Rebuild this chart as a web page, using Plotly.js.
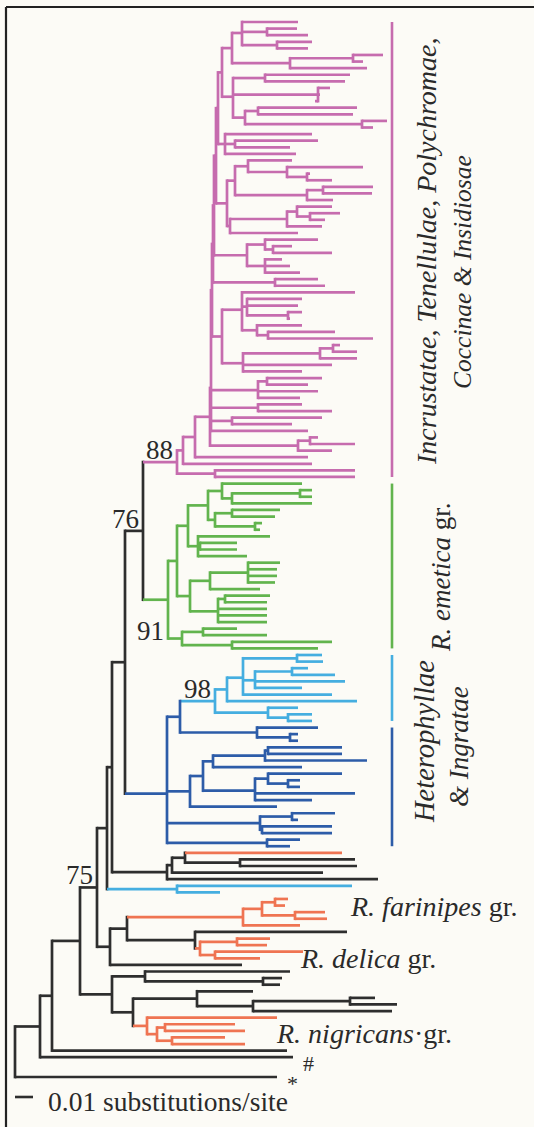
<!DOCTYPE html>
<html><head><meta charset="utf-8">
<script src="https://cdn.plot.ly/plotly-3.0.1.min.js"></script>
<style>html,body{margin:0;padding:0;background:#fcfbf6;}#chart{width:534px;height:1127px;}</style>
</head><body><div id="chart"></div>
<script>
// ---- DATA: tree in Newick-like notation. Number after ':' = distance from root
// (scale units: 18 units = 0.01 substitutions/site). [x] = colour group of subtree.
// Numbers after ')' = bootstrap support.
const M1 = "((:283,(:282,:293):252,(:297,:293):262):227,((:368,:348):338,:352):275):217";
const M2 = "((:335,:330):250,(:315,:305,:300):303,((:342,:338):243,(:372,:358):347):230):218";
const M3 = "(:297,(:303,:275):220,:281):210";
const M4 = "((:277,(:348,(:295,:317):292):272):233,((:358,:357):308,:318):292):220";
const M5 = "(((:317,(:325,:310):295):282,:307):272,:283):215";
const M6 = "((:303,(:277,:317):258):250,(:267,:275,:285):250):232";
const M7 = "(:303,:310):260";
const M8 = "((:340,(:287,:283,(:287,:275):273):232,(:287,(:320,:358):253):242):227,(((:325,:342):318,:342):305,:317,:287):228):207";
const M9 = "((:307,:293):252,:303,:285):243";
const M10 = "(:287,:317):243";
const M10b = "(:307,:277):217";
const M11 = "((:303,:340):295,:317):283";
const Mend = "(:340,:340):200";
const MAG = "((((((((((({M1},{M2}):207,{M3}):203,({M4},{M5}):212):201,{M6}):199,{M7}):198,{M8}):197,{M9},{M10},{M10b},:293):196,{M11}):195,:293):180,:297):168,{Mend})88[m]:162";

const Ga = "(:287,((:297,:297):285,:297):217):207";
const Gb = "((:265,:260):217,(:247,:245):240):200";
const Gc = "(:255,(:222,:222):185,:232):183";
const Gd = "((:265,:262,:262,:260):233,:245):195";
const Ge = "((:255,:252):210,:252,:252,:252):203";
const Gf = "((:222,:252):188,(:317,:303):217):167";
const GREEN = "(((({Ga},{Gb}):193,{Gc}):173,({Gd},{Ge}):175):162,{Gf})91[g]:153";

const LB = "((((:307,:308):282,((:293,:320):277,:330,:287):240,:317):228,:342):212,(:283,(:297,:297):273):253)98[l]:200";
const Bb1 = "(:303,(:283,:283):275):242";
const Bmid = "((((:327,:327):253,:352):250,:287):198,((:327,(:285,:285):273):253,:340,:297):240):188";
const Bbot1 = "((:320,:283):277,(:317,:317):247):245";
const Bbot2 = "(:285,:275):252";
const BLUE = "(({LB},{Bb1}):165,({Bmid},:262):175,{Bbot1},{Bbot2})[b]:152";

const CORE = "(({MAG},{GREEN})76:128,{BLUE}):110";
const Ntop = "((([o]:327,(:340,:342):225):170,:308):157,:363):152";
const FAR = "(:337,:205)[l]:162";
const ORA1 = "(((:273,:270):260,(:310,:312):280):247,:285)[o]:228";
const ORA2 = "((:255,:252):222,(:288,:245):200)[o]:185";
const NA = "(:275,(:267,:265):248):130";
const NC = "(:238,((:360,:382):335,:377):238):182";
const ORA3 = "(:262,((:220,:230):150,(:210,:230):157):142)[o]:132";
const BACKBONE = "((((((({CORE},{Ntop}):97,{FAR}):92,(({ORA1},(:332,{ORA2}):180):112,:227):95)75:82,({NA},({NC},{ORA3}):118):97):65,:272):37,#:278):25,*:262):0";

const groupLabels = ["<i>R. farinipes</i> gr.", "<i>R. delica</i> gr.", "<i>R. nigricans</i>·gr."];
const sideLabels = ["<i>Incrustatae, Tenellulae, Polychromae,</i>", "<i>Coccinae & Insidiosae</i>",
                    "<i>R. emetica</i> gr.", "<i>Heterophyllae</i>", "<i>& Ingratae</i>"];
const scaleBarValue = 0.01;          // substitutions/site
const unitsPerSubstitution = 1800;   // scale units per substitution/site
const scaleLabel = "0.01 substitutions/site";
const bootstrapBelow = ["91"];

// ---- BUILD TREE ----
const LIB = {M1,M2,M3,M4,M5,M6,M7,M8,M9,M10,M10b,M11,Mend,MAG,Ga,Gb,Gc,Gd,Ge,Gf,GREEN,LB,Bb1,Bmid,Bbot1,Bbot2,BLUE,CORE,Ntop,FAR,ORA1,ORA2,NA,NC,ORA3};
function expand(s){ return s.replace(/\{(\w+)\}/g,(_,k)=>expand(LIB[k])); }
function parse(s){
  let i=0;
  function node(){
    const n={children:[],label:'',tag:null,depth:0};
    if(s[i]==='('){ i++; n.children.push(node()); while(s[i]===','){i++; n.children.push(node());} i++; }
    let lab=''; while(i<s.length && '[:,()'.indexOf(s[i])<0) lab+=s[i++];
    n.label=lab.trim();
    if(s[i]==='['){ i++; let t=''; while(s[i]!==']') t+=s[i++]; i++; n.tag=t; }
    if(s[i]===':'){ i++; let d=''; while(i<s.length && /[0-9.\-]/.test(s[i])) d+=s[i++]; n.depth=parseFloat(d); }
    return n;
  }
  return node();
}
const root = parse(expand(BACKBONE).replace(/\s+/g,''));

const OUTGROUP = '*', OUTGROUP_GAP = 2;
let counter=0; const leaves=[]; const internals=[];
function layoutY(n,parent,col){
  n.parent=parent; n.color=n.tag||col;
  if(!n.children.length){ if(n.label===OUTGROUP) counter+=OUTGROUP_GAP; n.y=counter++; leaves.push(n); }
  else { n.children.forEach(c=>layoutY(c,n,n.color)); n.y=n.children.reduce((a,c)=>a+c.y,0)/n.children.length; internals.push(n); }
}
layoutY(root,null,'k');
const maxY = leaves[leaves.length-1].y;

const W=534,H=1127, TOP_PX=22, BOTTOM_PX=1077, ROOT_PX=15;
const s = (BOTTOM_PX-TOP_PX)/maxY;
const LW=2.7;
const ext = (LW/2)/s;
const COLORS={k:'#2e2e2e',m:'#c66cae',g:'#62b44e',l:'#45aee0',b:'#2d5ca8',o:'#ef7452'};

const segs={}; Object.keys(COLORS).forEach(k=>segs[k]={x:[],y:[]});
function add(c,x0,y0,x1,y1){ const g=segs[c]; g.x.push(x0,x1,null); g.y.push(y0,y1,null); }
function walk(n){
  if(n.parent) add(n.color,n.parent.depth,n.y,n.depth,n.y);
  if(n.children.length){
    const a=n.children[0].y, b=n.children[n.children.length-1].y;
    add(n.color,n.depth,a-ext,n.depth,b+ext);
    n.children.forEach(walk);
  }
}
walk(root);
const traces = Object.keys(COLORS).map(k=>({type:'scatter',mode:'lines',x:segs[k].x,y:segs[k].y,
  line:{color:COLORS[k],width:LW},hoverinfo:'skip',connectgaps:false}));

const FONT="'Liberation Serif', 'Times New Roman', serif";
const TXT='#2a2a2a';
const shapes=[]; const ann=[];
const pX=x=>x/W, pY=y=>1-y/H;

// frame
shapes.push({type:'line',xref:'paper',yref:'paper',x0:pX(6),x1:1,y0:pY(7),y1:pY(7),line:{color:'#222',width:2.2}});
shapes.push({type:'line',xref:'paper',yref:'paper',x0:pX(6),x1:pX(6),y0:pY(7),y1:0,line:{color:'#222',width:2.2}});

// clade bars from runs of leaf colours
const BAR_X = 392-ROOT_PX;
let runs=[]; leaves.forEach(l=>{ const r=runs[runs.length-1]; if(r && r.c===l.color) r.last=l; else runs.push({c:l.color,first:l,last:l}); });
runs.filter(r=>['m','g','l','b'].includes(r.c) && (r.last.y-r.first.y)>=4).forEach(r=>{
  shapes.push({type:'line',xref:'x',yref:'y',x0:BAR_X,x1:BAR_X,y0:r.first.y,y1:r.last.y,line:{color:COLORS[r.c],width:2.6}});
});

// scale bar
const barLen = scaleBarValue*unitsPerSubstitution;
const scaleY = (1097-TOP_PX)/s;
shapes.push({type:'line',xref:'x',yref:'y',x0:0,x1:barLen,y0:scaleY,y1:scaleY,line:{color:'#2e2e2e',width:2.6}});
ann.push({xref:'paper',yref:'paper',x:pX(46),y:pY(1101),xanchor:'left',yanchor:'middle',text:scaleLabel,showarrow:false,font:{family:FONT,size:27.5,color:TXT}});

// bootstrap labels
internals.forEach(n=>{
  if(n.label && /^\d+$/.test(n.label)){
    const below = bootstrapBelow.includes(n.label);
    ann.push({xref:'x',yref:'y',x:n.depth-2,y:n.y,xanchor:'right',yanchor:below?'top':'bottom',yshift:below?-14:-5,
      text:n.label,showarrow:false,font:{family:FONT,size:27,color:TXT}});
  }
});
// leaf labels (# and *)
leaves.filter(l=>l.label).forEach(l=>{
  ann.push({xref:'x',yref:'y',x:l.depth+8,y:l.y,xanchor:'left',yanchor:'top',yshift:8,text:l.label,showarrow:false,font:{family:FONT,size:22,color:TXT}});
});
// group labels
const gPos=[[348,906],[298,958],[274,1033]];
groupLabels.forEach((t,i)=>ann.push({xref:'paper',yref:'paper',x:pX(gPos[i][0]),y:pY(gPos[i][1]),xanchor:'left',yanchor:'middle',text:t,showarrow:false,font:{family:FONT,size:28,color:TXT}}));
const sPos=[[427,252,28],[463,272,25.5],[441,578,27],[424,742,28.5],[459,747,27]];
sideLabels.forEach((t,i)=>ann.push({xref:'paper',yref:'paper',x:pX(sPos[i][0]),y:pY(sPos[i][1]),xanchor:'center',yanchor:'middle',textangle:-90,text:t,showarrow:false,font:{family:FONT,size:sPos[i][2],color:TXT}}));

const layout={width:W,height:H,margin:{l:0,r:0,t:0,b:0},paper_bgcolor:'#fcfbf6',plot_bgcolor:'#fcfbf6',showlegend:false,
  xaxis:{range:[-ROOT_PX,W-ROOT_PX],visible:false,fixedrange:true},
  yaxis:{range:[(H-TOP_PX)/s,-TOP_PX/s],visible:false,fixedrange:true},
  shapes,annotations:ann};
Plotly.newPlot('chart',traces,layout,{staticPlot:true,displayModeBar:false});
</script></body></html>
